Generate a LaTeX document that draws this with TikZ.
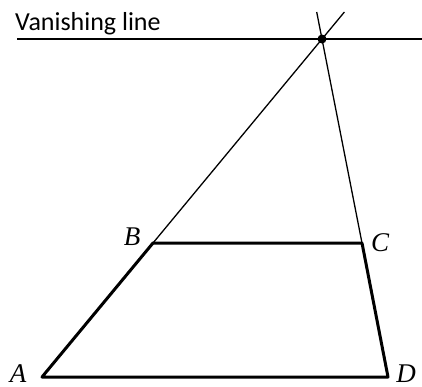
\documentclass[tikz,border=0pt]{standalone}
\usepackage{fontspec}
\newfontfamily\labelfont{Carlito}
\newfontfamily\ptfont{Liberation Serif}
\begin{document}
\begin{tikzpicture}[x=1pt,y=-1pt,
  thinline/.style={line width=1.3pt},
  thickline/.style={line width=3pt, line cap=round, line join=round},
  ptlabel/.style={font=\ptfont\itshape\fontsize{27}{27}\selectfont, inner sep=0pt, anchor=base}]
\useasboundingbox (0,0) rectangle (422,386);
\coordinate (L) at (17,39);
\coordinate (R) at (422,39);
\coordinate (V) at (322,39);
\coordinate (A) at (42,377);
\coordinate (B) at (153,243);
\coordinate (C) at (362,243);
\coordinate (D) at (388,377);
\coordinate (Ve) at (344.4,12);
\coordinate (De) at (316.7,12);
\draw[thinline] (L) -- (R);
\draw[thinline] (B) -- (Ve);
\draw[thinline] (C) -- (De);
\draw[thickline] (A) -- (B) -- (C) -- (D) -- cycle;
\fill (V) circle (4.5pt);
\node[anchor=base west, inner sep=0pt, font=\labelfont\fontsize{26}{26}\selectfont] (vl) at (15,30) {Vanishing line};
\node[ptlabel] (la) at (18,382) {A};
\node[ptlabel] (lb) at (132,245) {B};
\node[ptlabel] (lc) at (380,251) {C};
\node[ptlabel] (ld) at (406,382) {D};
\end{tikzpicture}
\end{document}
